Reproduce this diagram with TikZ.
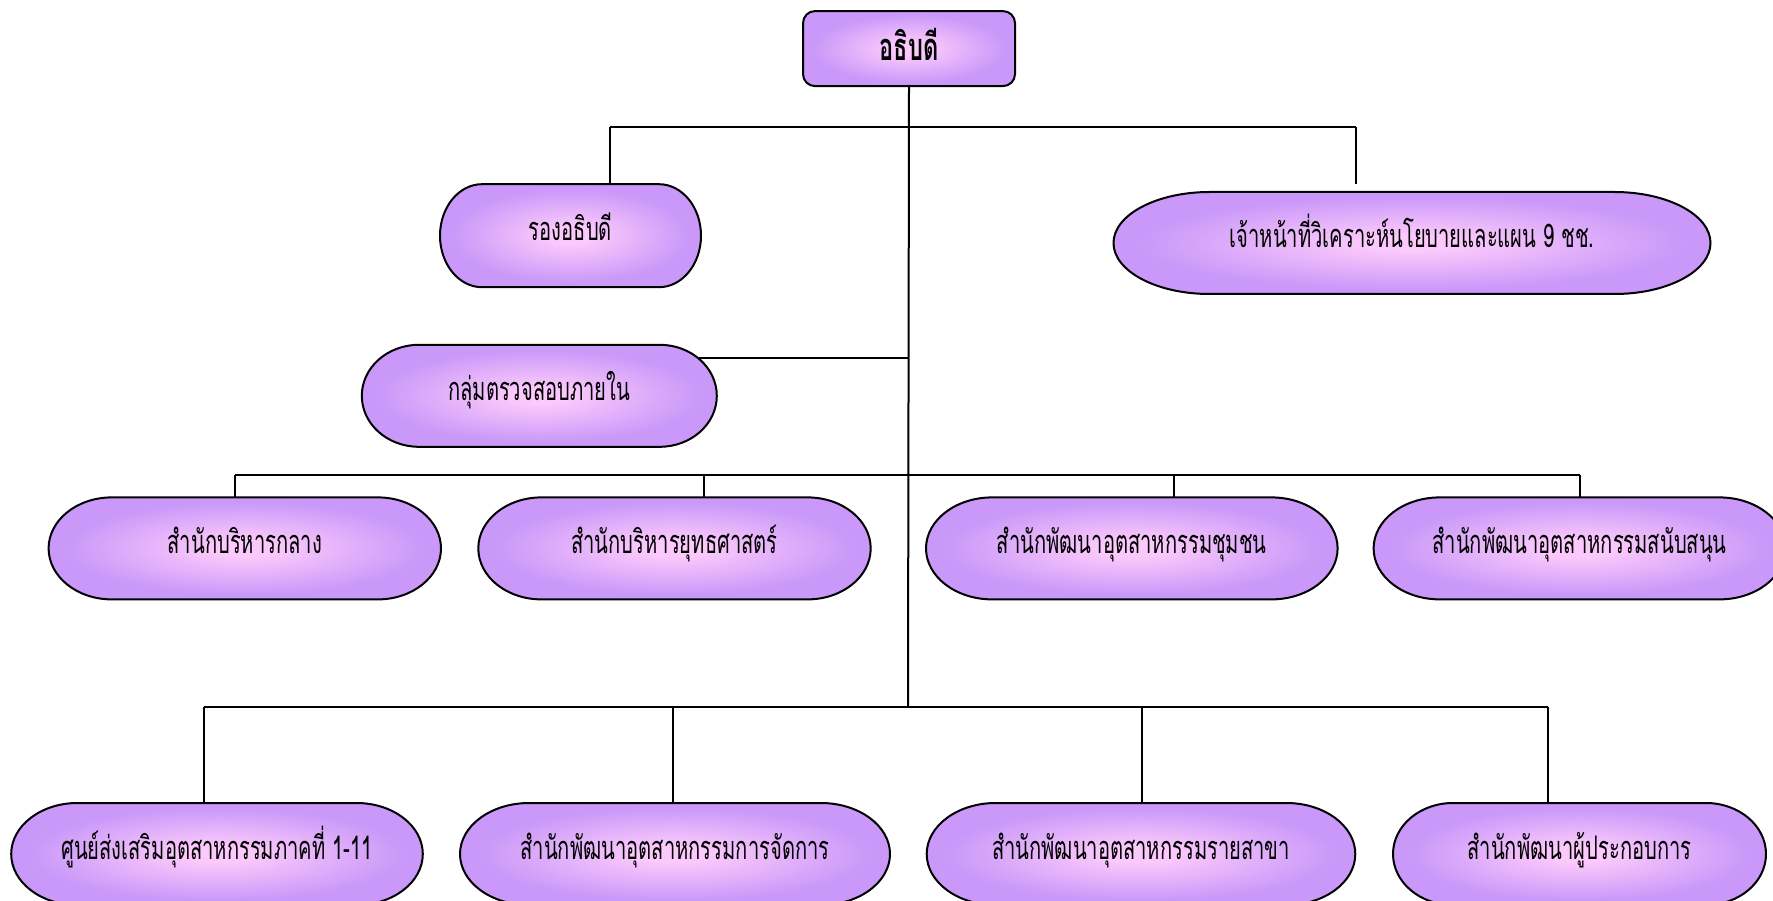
\documentclass[tikz,border=0pt]{standalone}
\usepackage{fontspec}
\newfontfamily\thaifont[Script=Thai,FakeStretch=0.62]{Loma}
\usetikzlibrary{calc}
\definecolor{purplec}{RGB}{201,152,249}
\definecolor{pinkc}{RGB}{251,201,251}
\pgfdeclareradialshading{pillshade}{\pgfpoint{0bp}{0bp}}{color(0bp)=(pinkc); color(4bp)=(pinkc); color(23bp)=(purplec); color(50bp)=(purplec)}
\tikzset{
  conn/.style={line width=2pt, black},
  pilltext/.style={inner sep=0pt, text height=20pt, text depth=10pt, font=\thaifont\fontsize{32.5}{36}\selectfont},
  dirbox/.style={draw=black, line width=2pt, rounded corners=12pt, shading=pillshade, minimum width=212pt, minimum height=75pt, inner sep=0pt, text height=27pt, text depth=3pt, font=\thaifont\bfseries\fontsize{38}{40}\selectfont}
}
\newcommand{\pillbox}[6]{%
  \pgfmathsetmacro{\pL}{#2-#4/2}%
  \pgfmathsetmacro{\pR}{#2+#4/2}%
  \pgfmathsetmacro{\pT}{#3-#5/2}%
  \pgfmathsetmacro{\pB}{#3+#5/2}%
  \pgfmathsetmacro{\prx}{0.161*#4}%
  \pgfmathsetmacro{\pry}{#5/2}%
  \shadedraw[shading=pillshade, draw=black, line width=2pt] (\pL+\prx,\pT) -- (\pR-\prx,\pT) arc[start angle=90,end angle=-90,x radius=\prx pt,y radius=\pry pt] -- (\pL+\prx,\pB) arc[start angle=270,end angle=90,x radius=\prx pt,y radius=\pry pt] -- cycle;
  \node[pilltext, minimum width=#4pt, minimum height=#5pt] (#1) at (#2,#3) {#6};
}
\begin{document}
\begin{tikzpicture}[x=1pt,y=-1pt]
\useasboundingbox (0,0) rectangle (1773,901);
% boxes
\node[dirbox] (dir) at (909,48.6) {อธิบดี};
\pillbox{vice}{570.5}{235.7}{261}{103}{รองอธิบดี}
\pillbox{plan}{1412}{243}{597}{102}{เจ้าหน้าที่วิเคราะห์นโยบายและแผน 9 ชช.}
\pillbox{audit}{539.3}{395.8}{355}{102}{กลุ่มตรวจสอบภายใน}
\pillbox{cent}{244.8}{548.4}{392.4}{102}{สำนักบริหารกลาง}
\pillbox{strat}{674.5}{548.4}{392.4}{102}{สำนักบริหารยุทธศาสตร์}
\pillbox{comm}{1131.8}{548.4}{411.6}{102}{สำนักพัฒนาอุตสาหกรรมชุมชน}
\pillbox{supp}{1579.6}{548.4}{412}{102}{สำนักพัฒนาอุตสาหกรรมสนับสนุน}
\pillbox{reg}{217}{854}{411.6}{102}{ศูนย์ส่งเสริมอุตสาหกรรมภาคที่ 1-11}
\pillbox{mgmt}{675}{854}{430}{102}{สำนักพัฒนาอุตสาหกรรมการจัดการ}
\pillbox{sect}{1141}{854}{428.6}{102}{สำนักพัฒนาอุตสาหกรรมรายสาขา}
\pillbox{entr}{1579.5}{854}{373}{102}{สำนักพัฒนาผู้ประกอบการ}
% bus coordinates
\coordinate (b1L) at (609.5,126.6);
\coordinate (b1R) at (1355.7,126.6);
\coordinate (planEnd) at (1355.7,184);
\coordinate (t2) at (908,358.4);
\coordinate (auditE) at (699,358.4);
\coordinate (b3L) at (235,474.9);
\coordinate (b3R) at (1579.6,474.9);
\coordinate (b3a) at (704.4,474.9);
\coordinate (b3b) at (1173.7,474.9);
\coordinate (b4L) at (203.5,706.7);
\coordinate (b4R) at (1548,706.7);
\coordinate (b4a) at (672.8,706.7);
\coordinate (b4b) at (1142,706.7);
\coordinate (t4) at (908,706.7);
% connectors
\draw[conn] (dir.south) -- (t4);
\draw[conn] (b1L) -- (b1R);
\draw[conn] (b1L) -- (b1L |- vice.north);
\draw[conn] (b1R) -- (planEnd);
\draw[conn] (t2) -- (auditE);
\draw[conn] (b3L) -- (b3R);
\draw[conn] (b3L) -- (b3L |- cent.north);
\draw[conn] (b3a) -- (b3a |- strat.north);
\draw[conn] (b3b) -- (b3b |- comm.north);
\draw[conn] (b3R) -- (b3R |- supp.north);
\draw[conn] (b4L) -- (b4R);
\draw[conn] (b4L) -- (b4L |- reg.north);
\draw[conn] (b4a) -- (b4a |- mgmt.north);
\draw[conn] (b4b) -- (b4b |- sect.north);
\draw[conn] (b4R) -- (b4R |- entr.north);
\end{tikzpicture}
\end{document}
